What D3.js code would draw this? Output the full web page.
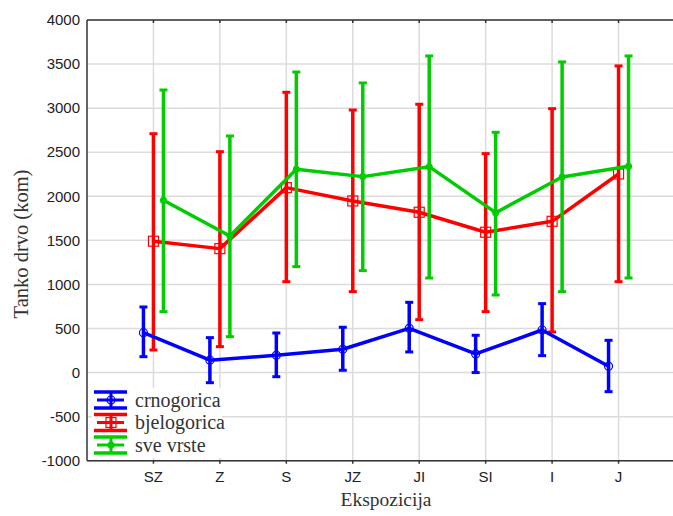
<!DOCTYPE html>
<html><head><meta charset="utf-8">
<script src="https://cdn.jsdelivr.net/npm/d3@7"></script>
<style>html,body{margin:0;padding:0;background:#fff;overflow:hidden}</style>
</head><body>
<svg id="c" width="673" height="516"></svg>
<script>
const categories = ["SZ","Z","S","JZ","JI","SI","I","J"];
const yTicks = [-1000,-500,0,500,1000,1500,2000,2500,3000,3500,4000];
const seriesNames = ["crnogorica","bjelogorica","sve vrste"];
const crnoMean  = [453,140,196,264,502,211,483,71];
const crnoUp    = [744,396,449,514,797,423,782,366];
const crnoLow   = [180,-115,-47,26,234,0,192,-217];
const bjeloMean = [1490,1406,2098,1947,1819,1592,1716,2253];
const bjeloUp   = [2710,2506,3180,2979,3044,2484,2994,3479];
const bjeloLow  = [256,294,1031,918,600,691,461,1031];
const sveMean   = [1955,1550,2306,2223,2336,1814,2219,2341];
const sveUp     = [3206,2684,3410,3286,3592,2726,3524,3592];
const sveLow    = [691,407,1202,1156,1073,880,918,1073];

const SERIF = "'Liberation Serif', 'Times New Roman', serif";
const SANS = "'Liberation Sans', Arial, sans-serif";

const svg = d3.select("#c");
const L=87, R=685, T=20, B=460.7;
const x = d3.scalePoint().domain(categories).range([L,R]).padding(1);
const y = d3.scaleLinear().domain([-1000,4000]).range([B,T]);

const series = [
  {name:seriesNames[0], color:"#0000ff", mean:crnoMean, up:crnoUp, low:crnoLow, off:-10, marker:"circle"},
  {name:seriesNames[1], color:"#ff0000", mean:bjeloMean, up:bjeloUp, low:bjeloLow, off:0, marker:"square"},
  {name:seriesNames[2], color:"#00cc00", mean:sveMean, up:sveUp, low:sveLow, off:10, marker:"dot"}
];

// grid
const g = svg.append("g");
g.selectAll("line.h").data(yTicks).enter().append("line")
  .attr("x1",L).attr("x2",R).attr("y1",d=>y(d)).attr("y2",d=>y(d))
  .attr("stroke","#dcdcdc").attr("stroke-width",1.5);
g.selectAll("line.v").data(categories).enter().append("line")
  .attr("x1",d=>x(d)).attr("x2",d=>x(d)).attr("y1",T).attr("y2",B)
  .attr("stroke","#dcdcdc").attr("stroke-width",1.5);

// frame
const fr = svg.append("g").attr("stroke","#333").attr("stroke-width",1.5);
fr.append("line").attr("x1",L).attr("x2",R).attr("y1",T).attr("y2",T);
fr.append("line").attr("x1",L).attr("x2",R).attr("y1",B).attr("y2",B);
fr.append("line").attr("x1",L).attr("x2",L).attr("y1",T).attr("y2",B);
fr.selectAll("line.tt").data(categories).enter().append("line")
  .attr("x1",d=>x(d)).attr("x2",d=>x(d)).attr("y1",T).attr("y2",T+3);
fr.selectAll("line.tb").data(categories).enter().append("line")
  .attr("x1",d=>x(d)).attr("x2",d=>x(d)).attr("y1",B).attr("y2",B+3);

// tick labels
svg.append("g").selectAll("text").data(yTicks).enter().append("text")
  .style("font-family",SANS).style("font-size","15px")
  .attr("x",80).attr("y",d=>y(d)).attr("dy","0.35em").attr("text-anchor","end")
  .attr("fill","#222")
  .text(d=>d);
svg.append("g").selectAll("text").data(categories).enter().append("text")
  .style("font-family",SANS).style("font-size","15px")
  .attr("x",d=>x(d)).attr("y",482).attr("text-anchor","middle")
  .attr("fill","#222")
  .text(d=>d);

// axis titles
svg.append("text").style("font-family",SERIF).style("font-size","19.5px")
  .attr("x",386).attr("y",506).attr("text-anchor","middle").attr("fill","#333")
  .text("Ekspozicija");
svg.append("text").style("font-family",SERIF).style("font-size","20.5px")
  .attr("transform","translate(28,244) rotate(-90)").attr("text-anchor","middle").attr("fill","#333")
  .text("Tanko drvo (kom)");

function drawMarker(sel, type, color, cx, cy){
  if(type==="circle") sel.append("circle").attr("cx",cx).attr("cy",cy).attr("r",4)
     .attr("fill","none").attr("stroke",color).attr("stroke-width",1.2);
  else if(type==="square") sel.append("rect").attr("x",cx-5).attr("y",cy-5).attr("width",10).attr("height",10)
     .attr("fill","none").attr("stroke",color).attr("stroke-width",1.2);
  else sel.append("circle").attr("cx",cx).attr("cy",cy).attr("r",3.5).attr("fill",color);
}

const order = [1,2,0];
order.forEach(i=>{
  const s = series[i];
  const gs = svg.append("g");
  categories.forEach((c,j)=>{
    const cx = x(c)+s.off;
    gs.append("line").attr("x1",cx).attr("x2",cx).attr("y1",y(s.up[j])).attr("y2",y(s.low[j]))
      .attr("stroke",s.color).attr("stroke-width",3.5);
    [s.up[j], s.low[j]].forEach(v=>{
      gs.append("line").attr("x1",cx-4).attr("x2",cx+4).attr("y1",y(v)).attr("y2",y(v))
        .attr("stroke",s.color).attr("stroke-width",3);
    });
  });
  const line = d3.line().x((d,j)=>x(categories[j])+s.off).y(d=>y(d));
  gs.append("path").attr("d",line(s.mean)).attr("fill","none").attr("stroke",s.color).attr("stroke-width",3.5)
    .attr("stroke-linejoin","round");
  categories.forEach((c,j)=>drawMarker(gs, s.marker, s.color, x(c)+s.off, y(s.mean[j])));
});

// legend
const lg = svg.append("g");
lg.append("rect").attr("x",92).attr("y",388).attr("width",130).attr("height",70).attr("fill","#fff");
series.forEach((s,i)=>{
  const cy = 400 + i*22.5;
  const x0=94, x1=127, xc=111;
  lg.append("line").attr("x1",x0).attr("x2",x1).attr("y1",cy-8).attr("y2",cy-8).attr("stroke",s.color).attr("stroke-width",3.5);
  lg.append("line").attr("x1",x0).attr("x2",x1).attr("y1",cy+8).attr("y2",cy+8).attr("stroke",s.color).attr("stroke-width",3.5);
  lg.append("line").attr("x1",x0+3).attr("x2",x1-3).attr("y1",cy).attr("y2",cy).attr("stroke",s.color).attr("stroke-width",3);
  lg.append("line").attr("x1",xc).attr("x2",xc).attr("y1",cy-8).attr("y2",cy+8).attr("stroke",s.color).attr("stroke-width",3);
  drawMarker(lg, s.marker, s.color, xc, cy);
  lg.append("text").style("font-family",SERIF).style("font-size","20px")
    .attr("x",135).attr("y",cy+6.5).attr("fill","#333")
    .text(s.name);
});
</script>
</body></html>
